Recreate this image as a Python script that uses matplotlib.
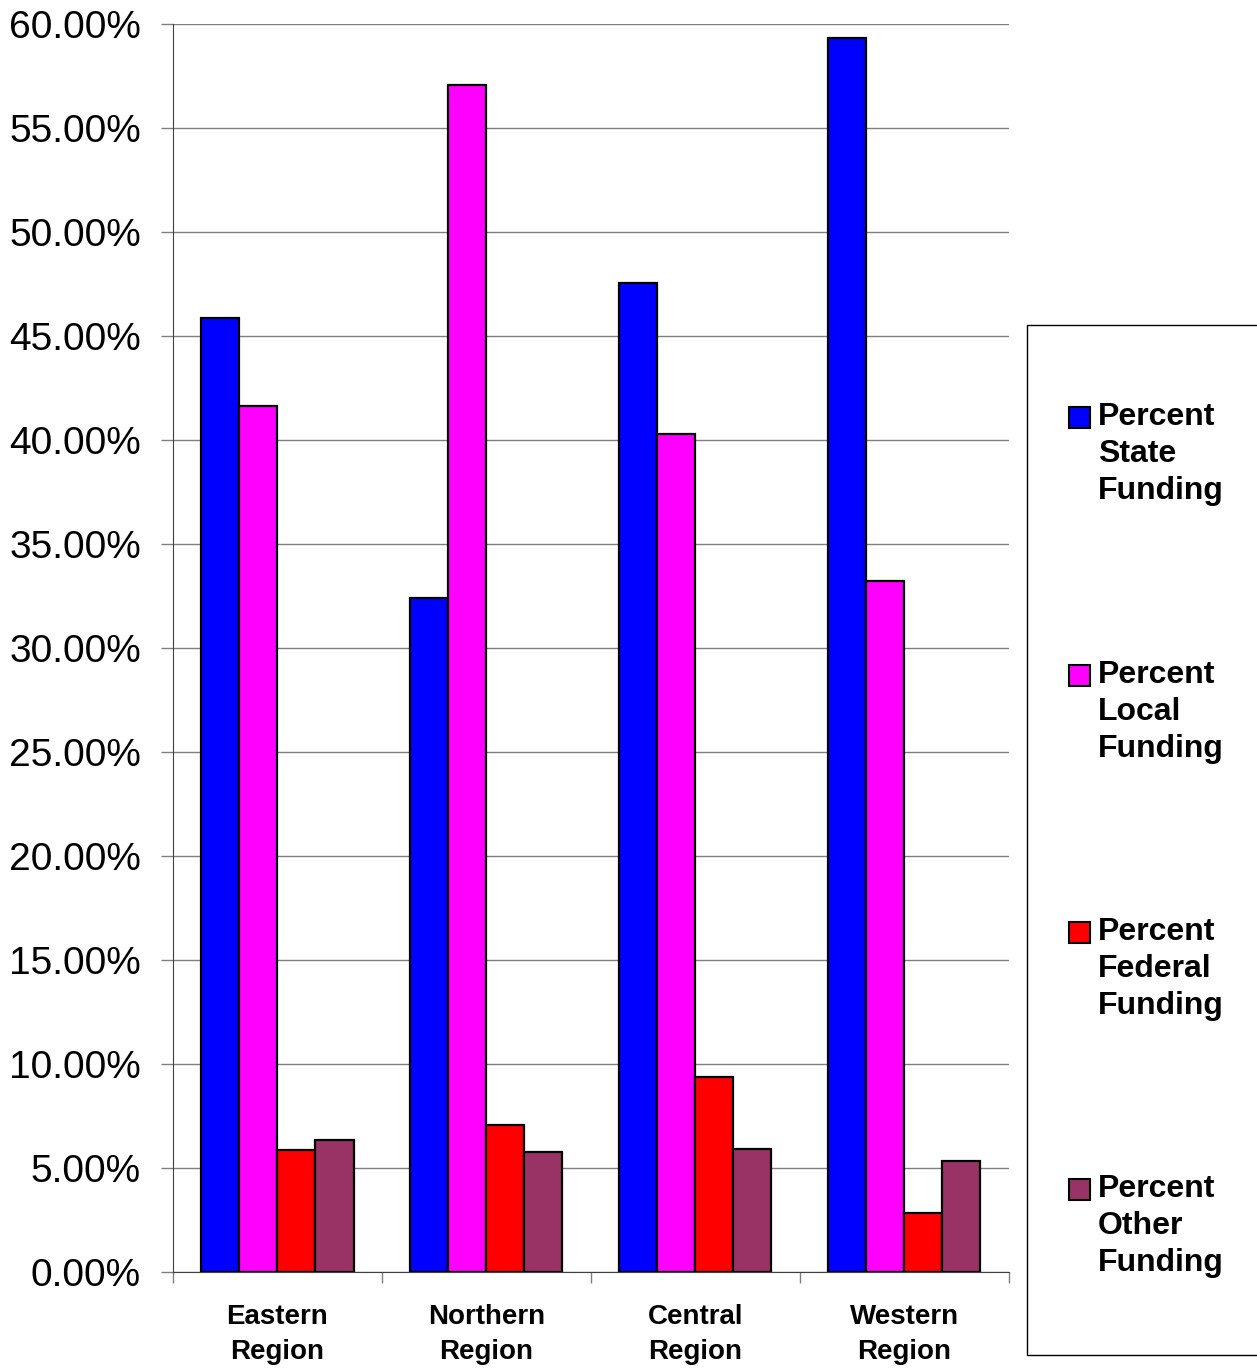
import matplotlib.pyplot as plt
from matplotlib.patches import Rectangle
from matplotlib.ticker import FuncFormatter, MultipleLocator
import numpy as np

plt.rcParams['font.family'] = ['Liberation Sans', 'DejaVu Sans']

regions = ["Eastern\nRegion", "Northern\nRegion", "Central\nRegion", "Western\nRegion"]
series = ["Percent\nState\nFunding", "Percent\nLocal\nFunding",
          "Percent\nFederal\nFunding", "Percent\nOther\nFunding"]
state = [45.87, 32.40, 47.55, 59.33]
local = [41.63, 57.07, 40.29, 33.22]
federal = [5.87, 7.07, 9.38, 2.84]
other = [6.35, 5.77, 5.91, 5.34]
colors = ["#0000FF", "#FF00FF", "#FF0000", "#993366"]

values = [state, local, federal, other]

fig = plt.figure(figsize=(12.57, 13.68), dpi=100)
ax = fig.add_axes([0.1376, 0.0702, 0.665, 0.9123])

x = np.arange(len(regions))
w = 0.182
for j, (vals, c) in enumerate(zip(values, colors)):
    ax.bar(x + (j - 1.5) * w, np.array(vals) / 100, width=w, color=c,
           edgecolor="black", linewidth=1.6, zorder=3)

ax.set_xlim(-0.5, len(regions) - 0.5)
ax.set_ylim(0, 0.6)
ax.yaxis.set_major_locator(MultipleLocator(0.05))
ax.yaxis.set_major_formatter(FuncFormatter(lambda v, p: f"{v * 100:.2f}%"))
ax.grid(axis="y", color="#808080", linewidth=1.0, zorder=0)
ax.tick_params(axis="y", labelsize=28, length=9, width=1.0, color="#808080", pad=14)

ax.set_xticks(x)
ax.set_xticklabels(regions, fontsize=20, fontweight="bold", linespacing=1.45)
ax.set_xticks(np.arange(-0.5, len(regions)), minor=True)
ax.tick_params(axis="x", which="major", length=0, pad=23)
ax.tick_params(axis="x", which="minor", length=8, width=1.0, color="#808080")

for s in ["top", "right"]:
    ax.spines[s].set_visible(False)
ax.spines["left"].set_color("#404040")
ax.spines["bottom"].set_color("#404040")

# legend drawn by hand so each swatch sits beside the first line of its label
W, H = 1257, 1368
fig.patches.append(Rectangle((1027 / W, 1 - 1355 / H), (1300 - 1027) / W, (1355 - 325) / H,
                             transform=fig.transFigure, facecolor="white",
                             edgecolor="black", linewidth=1.0))
tops = [418, 676, 933, 1190]
for lbl, c, yt in zip(series, colors, tops):
    fig.patches.append(Rectangle((1069 / W, 1 - (yt + 10) / H), 21 / W, 21 / H,
                                 transform=fig.transFigure, facecolor=c,
                                 edgecolor="black", linewidth=1.5))
    fig.text(1098 / W, 1 - (yt - 16) / H, lbl, fontsize=23, fontweight="bold",
             va="top", ha="left", linespacing=1.3)

fig.savefig("out.png", dpi=100)
